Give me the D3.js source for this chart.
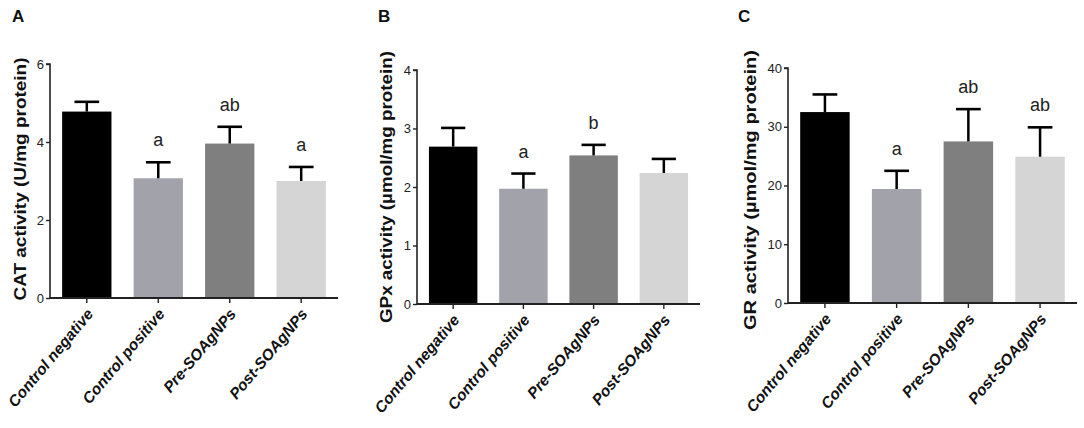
<!DOCTYPE html>
<html lang="en">
<head>
    <meta charset="UTF-8">
    <title>CAT, GPx and GR activity</title>
    <style>
        body { margin: 0; background: #fff; }
        text { font-family: "Liberation Sans", Arial, sans-serif; }
    </style>
</head>
<body>

    <script src="https://d3js.org/d3.v7.min.js"></script>

    <script>
        // groups on the x axis
        const groups = ['Control negative', 'Control positive', 'Pre-SOAgNPs', 'Post-SOAgNPs'];
        const barColors = ['#000000', '#a2a2aa', '#7f7f7f', '#d5d5d5'];

        // A - CAT
        const catMean = [4.78, 3.07, 3.96, 3.00];
        const catErr = [0.25, 0.41, 0.43, 0.36];
        const catLetters = ['', 'a', 'ab', 'a'];
        const catTicks = [0, 2, 4, 6];

        // B - GPx
        const gpxMean = [2.69, 1.97, 2.54, 2.24];
        const gpxErr = [0.32, 0.26, 0.18, 0.24];
        const gpxLetters = ['', 'a', 'b', ''];
        const gpxTicks = [0, 1, 2, 3, 4];

        // C - GR
        const grMean = [32.5, 19.4, 27.5, 24.9];
        const grErr = [3.0, 3.1, 5.5, 5.0];
        const grLetters = ['', 'a', 'ab', 'ab'];
        const grTicks = [0, 10, 20, 30, 40];

        const svg = d3.select('body')
            .append('svg')
            .attr('width', 1084)
            .attr('height', 428);

        // panel placement (pixels)
        const panels = [
            { letter: 'A', lx: 12, title: 'CAT activity (U/mg protein)', tx: 20, ty: 179, tlen: 243,
              x0: 50, x1: 338, yb: 298, yt: 64,
              mean: catMean, err: catErr, sig: catLetters, ticks: catTicks },
            { letter: 'B', lx: 378, title: 'GPx activity (\u00b5mol/mg protein)', tx: 386, ty: 187, tlen: 272,
              x0: 417, x1: 700, yb: 304, yt: 70,
              mean: gpxMean, err: gpxErr, sig: gpxLetters, ticks: gpxTicks },
            { letter: 'C', lx: 738, title: 'GR activity (\u00b5mol/mg protein)', tx: 750, ty: 190, tlen: 280,
              x0: 788, x1: 1077, yb: 303, yt: 68,
              mean: grMean, err: grErr, sig: grLetters, ticks: grTicks }
        ];

        panels.forEach(p => drawPanel(p));

        function drawPanel(p) {
            const g = svg.append('g');

            const x = d3.scaleBand()
                .domain(groups)
                .range([p.x0, p.x1])
                .paddingInner(0.31)
                .paddingOuter(0.17);

            const y = d3.scaleLinear()
                .domain([0, d3.max(p.ticks)])
                .range([p.yb, p.yt]);

            const rows = groups.map((name, i) => ({ name, mean: p.mean[i], err: p.err[i], sig: p.sig[i], color: barColors[i] }));

            // bars
            g.selectAll('rect.bar')
                .data(rows)
                .enter()
                .append('rect')
                .attr('class', 'bar')
                .attr('x', d => x(d.name))
                .attr('y', d => y(d.mean))
                .attr('width', x.bandwidth())
                .attr('height', d => y(0) - y(d.mean))
                .style('fill', d => d.color);

            // error bars (upper only)
            const capW = x.bandwidth() * 0.5;
            g.selectAll('line.err')
                .data(rows)
                .enter()
                .append('line')
                .attr('x1', d => x(d.name) + x.bandwidth() / 2)
                .attr('x2', d => x(d.name) + x.bandwidth() / 2)
                .attr('y1', d => y(d.mean))
                .attr('y2', d => y(d.mean + d.err))
                .style('stroke', '#000')
                .style('stroke-width', 2.5);

            g.selectAll('line.cap')
                .data(rows)
                .enter()
                .append('line')
                .attr('x1', d => x(d.name) + x.bandwidth() / 2 - capW / 2)
                .attr('x2', d => x(d.name) + x.bandwidth() / 2 + capW / 2)
                .attr('y1', d => y(d.mean + d.err))
                .attr('y2', d => y(d.mean + d.err))
                .style('stroke', '#000')
                .style('stroke-width', 2.6);

            // significance letters
            g.selectAll('text.sig')
                .data(rows.filter(d => d.sig))
                .enter()
                .append('text')
                .attr('x', d => x(d.name) + x.bandwidth() / 2)
                .attr('y', d => y(d.mean + d.err) - 16)
                .attr('text-anchor', 'middle')
                .style('font-size', '18px')
                .style('fill', '#222')
                .text(d => d.sig);

            // y axis
            const yAxis = g.append('g')
                .attr('transform', `translate(${p.x0},0)`)
                .call(d3.axisLeft(y).tickValues(p.ticks).tickSize(4).tickPadding(2).tickFormat(d3.format('d')));
            yAxis.select('.domain').attr('d', `M0,${p.yb}V${p.yt}h-4`).style('stroke', '#222').style('stroke-width', 1.6);
            yAxis.selectAll('.tick line').style('stroke', '#222').style('stroke-width', 1.4);
            yAxis.selectAll('.tick text').style('font-size', '13px').style('fill', '#222')
                .style('font-family', '"Liberation Sans", Arial, sans-serif');

            // x axis
            const xAxis = g.append('g')
                .attr('transform', `translate(0,${p.yb})`)
                .call(d3.axisBottom(x).tickSize(5).tickPadding(0));
            xAxis.select('.domain').attr('d', `M${p.x0},0H${p.x1}`).style('stroke', '#222').style('stroke-width', 2);
            xAxis.selectAll('.tick line').style('stroke', '#222').style('stroke-width', 1.4);
            xAxis.selectAll('.tick text')
                .attr('transform', 'translate(3,13) rotate(-50)')
                .attr('x', 0)
                .attr('y', 0)
                .attr('dy', '0.35em')
                .attr('text-anchor', 'end')
                .style('font-size', '15.5px')
                .style('font-weight', 'bold')
                .style('font-style', 'italic')
                .style('fill', '#111')
                .style('font-family', '"Liberation Sans", Arial, sans-serif');

            // y title
            g.append('text')
                .attr('transform', `translate(${p.tx},${p.ty}) rotate(-90)`)
                .attr('text-anchor', 'middle')
                .attr('dy', '0.35em')
                .attr('textLength', p.tlen)
                .attr('lengthAdjust', 'spacingAndGlyphs')
                .style('font-size', '17px')
                .style('font-weight', 'bold')
                .style('fill', '#111')
                .text(p.title);

            // panel letter
            g.append('text')
                .attr('x', p.lx)
                .attr('y', 22)
                .style('font-size', '17px')
                .style('font-weight', 'bold')
                .style('fill', '#111')
                .text(p.letter);
        }
    </script>

</body>
</html>
